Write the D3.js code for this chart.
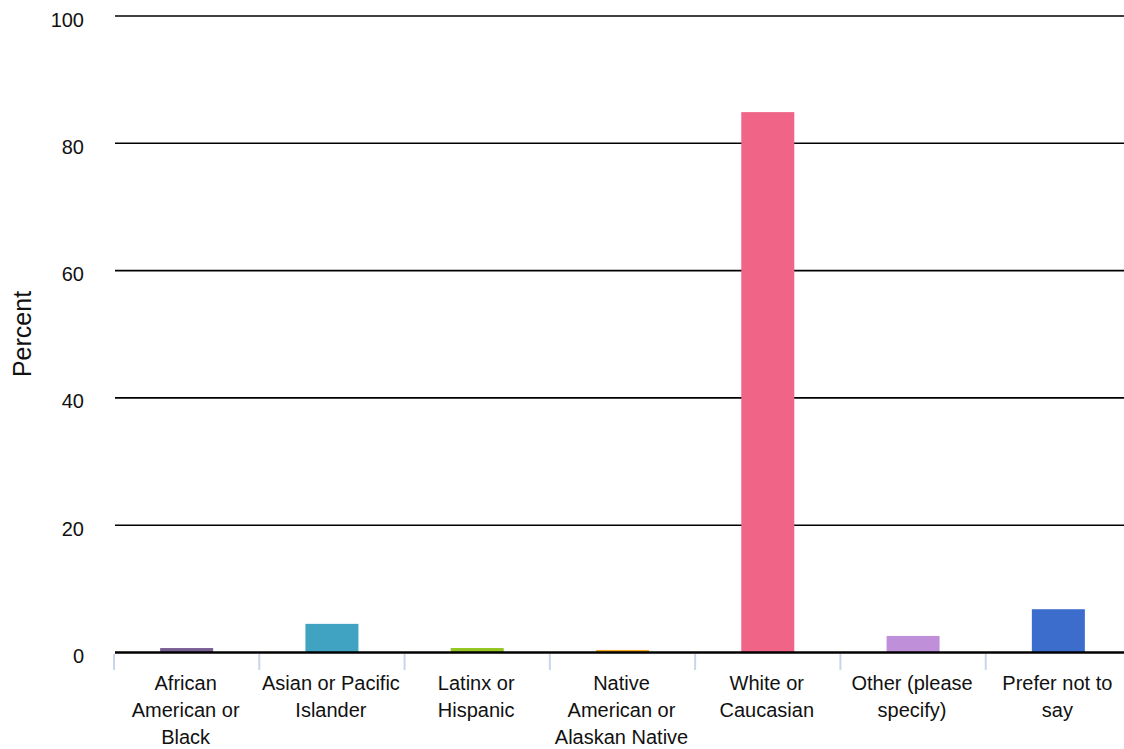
<!DOCTYPE html>
<html><head><meta charset="utf-8">
<script src="https://cdn.jsdelivr.net/npm/d3@7/dist/d3.min.js"></script>
<style>
html,body{margin:0;padding:0;background:#fff;}
svg{display:block;font-family:"Liberation Sans",Arial,Helvetica,sans-serif;}
</style></head>
<body><svg id="chart" width="1124" height="749"></svg>
<script>
const categories = ["African American or Black","Asian or Pacific Islander","Latinx or Hispanic","Native American or Alaskan Native","White or Caucasian","Other (please specify)","Prefer not to say"];
const categoryLines = [["African","American or","Black"],["Asian or Pacific","Islander"],["Latinx or","Hispanic"],["Native","American or","Alaskan Native"],["White or","Caucasian"],["Other (please","specify)"],["Prefer not to","say"]];
const values = [0.7, 4.5, 0.7, 0.4, 84.9, 2.6, 6.8];
const colors = ["#7a5f94","#40a3c2","#93c521","#f5a623","#f06587","#bf90d9","#3c6dcc"];
const yTicks = [0,20,40,60,80,100];
const yTitle = "Percent";

const svg = d3.select("#chart");
const x = d3.scaleBand().domain(categories).range([113,1130]).padding(0);
const y = d3.scaleLinear().domain([0,100]).range([652.5,16]);

// gridlines
svg.append("g").selectAll("line").data(yTicks.filter(d=>d!==0)).join("line")
  .attr("x1",115).attr("x2",1124)
  .attr("y1",d=>y(d)).attr("y2",d=>y(d))
  .attr("stroke","#000").attr("stroke-width",1.6);

// y tick labels
svg.append("g").selectAll("text").data(yTicks).join("text")
  .attr("x",84).attr("y",d=>y(d)+10.5)
  .attr("text-anchor","end").attr("font-size",20).attr("fill","#111")
  .text(d=>d);

// bars
const barW = 53;
svg.append("g").selectAll("rect").data(values).join("rect")
  .attr("x",(d,i)=>x(categories[i])+x.bandwidth()/2-barW/2+1)
  .attr("width",barW)
  .attr("y",d=>y(d))
  .attr("height",d=>y(0)-y(d))
  .attr("fill",(d,i)=>colors[i]);

// separators
svg.append("g").selectAll("line").data(categories).join("line")
  .attr("x1",d=>x(d)+1).attr("x2",d=>x(d)+1)
  .attr("y1",654).attr("y2",670)
  .attr("stroke","#c9d5ea").attr("stroke-width",2);

// zero axis line
svg.append("line").attr("x1",115).attr("x2",1124)
  .attr("y1",y(0)).attr("y2",y(0))
  .attr("stroke","#000").attr("stroke-width",2.5);

// category labels
const lab = svg.append("g").selectAll("text").data(categories).join("text")
  .attr("text-anchor","middle").attr("font-size",20).attr("fill","#111");
lab.each(function(d,i){
  const t = d3.select(this);
  categoryLines[i].forEach((ln,j)=>{
    t.append("tspan").attr("x",x(d)+x.bandwidth()/2).attr("y",690+27*j).text(ln);
  });
});

// y title
svg.append("text").attr("transform","translate(31,334) rotate(-90)")
  .attr("text-anchor","middle").attr("font-size",25).attr("fill","#111")
  .text(yTitle);
</script></body></html>
